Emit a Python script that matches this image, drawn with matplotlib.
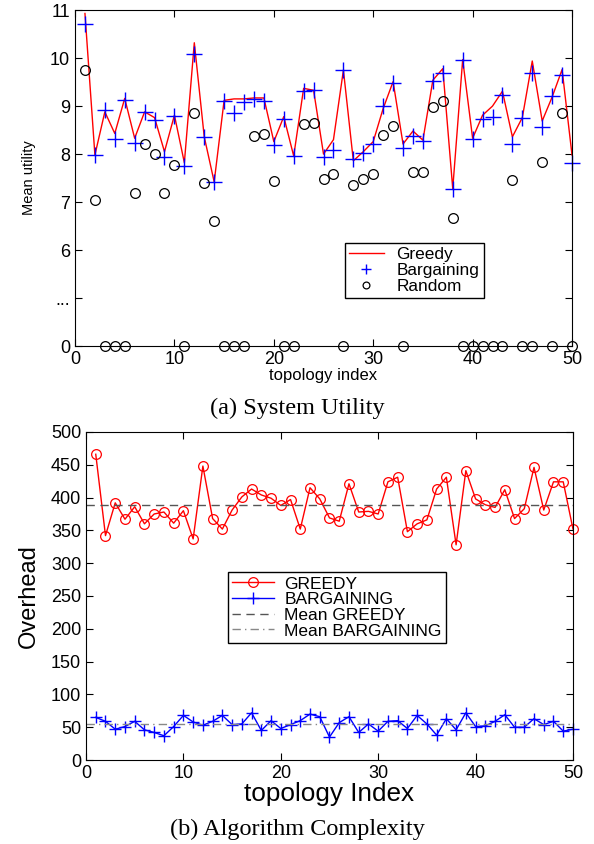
import numpy as np
import matplotlib
matplotlib.use("Agg")
import matplotlib.pyplot as plt

plt.rcParams['font.family'] = ['Liberation Sans', 'DejaVu Sans']

# ---------------- data ----------------
topology = list(range(1, 51))

greedy_util = [10.93, 7.98, 8.88, 8.43, 9.16, 8.33, 8.88, 8.76, 8.05, 8.81,
               7.82, 10.32, 8.36, 7.42, 9.12, 9.15, 9.15, 9.17, 9.17, 8.26,
               8.78, 7.96, 9.37, 9.33, 8.00, 8.30, 9.75, 7.86, 8.05, 8.26,
               8.95, 9.51, 8.21, 8.48, 8.29, 9.54, 9.78, 7.28, 9.97, 8.33,
               8.81, 9.00, 9.31, 8.36, 8.76, 9.94, 8.69, 9.19, 9.76, 7.98]
bargaining_util = [10.72, 7.98, 8.92, 8.31, 9.12, 8.24, 8.87, 8.71, 7.93, 8.80,
                   7.76, 10.08, 8.36, 7.42, 9.10, 8.85, 9.09, 9.15, 9.10, 8.19,
                   8.74, 7.97, 9.32, 9.33, 7.94, 8.08, 9.75, 7.90, 8.03, 8.21,
                   9.00, 9.49, 8.12, 8.38, 8.28, 9.52, 9.68, 7.28, 9.96, 8.31,
                   8.74, 8.78, 9.23, 8.20, 8.76, 9.68, 8.57, 9.21, 9.65, 7.82]
random_util = [9.75, 7.04, 0, 0, 0, 7.18, 8.21, 8.01, 7.18, 7.78,
               0, 8.85, 7.39, 6.61, 0, 0, 0, 8.38, 8.42, 7.44,
               0, 0, 8.63, 8.65, 7.48, 7.58, 0, 7.35, 7.49, 7.58,
               8.40, 8.58, 0, 7.63, 7.63, 8.99, 9.11, 6.66, 0, 0,
               0, 0, 0, 7.46, 0, 0, 7.83, 0, 8.86, 0]
util_tick_labels = ['0', '...', '6', '7', '8', '9', '10', '11']

greedy_overhead = [466, 342, 392, 367, 386, 360, 375, 378, 361, 380,
                   337, 448, 368, 352, 381, 401, 413, 404, 399, 388,
                   397, 352, 415, 398, 369, 364, 421, 378, 379, 375,
                   424, 431, 348, 360, 366, 413, 431, 328, 441, 398,
                   389, 385, 412, 368, 383, 446, 381, 424, 424, 352]
bargaining_overhead = [65, 59, 47, 51, 59, 46, 42, 37, 51, 68,
                       58, 53, 59, 68, 54, 55, 72, 45, 60, 48,
                       54, 60, 70, 66, 35, 57, 66, 42, 55, 44,
                       59, 60, 48, 68, 55, 38, 63, 46, 72, 51,
                       52, 59, 69, 50, 50, 63, 54, 59, 44, 47]
mean_greedy = 389
mean_bargaining = 55


def util_pos(v):
    v = np.asarray(v, dtype=float)
    return np.where(v >= 5, v - 4, v)


fig = plt.figure(figsize=(5.94, 8.44), dpi=100)

# ---------------- top chart ----------------
ax1 = fig.add_axes([0.1263, 0.590, 0.8367, 0.398])
ax1.plot(topology, util_pos(greedy_util), color='red', lw=1.0, label='Greedy',
         clip_on=False)
ax1.plot(topology, util_pos(bargaining_util), ls='none', marker='+', ms=11,
         mew=1.0, color='blue', label='Bargaining', clip_on=False)
ax1.plot(topology, util_pos(random_util), ls='none', marker='o', ms=7,
         mfc='none', mec='black', mew=0.9, label='Random', clip_on=False)
ax1.set_xlim(0, 50)
ax1.set_ylim(0, 7)
ax1.set_xticks([0, 10, 20, 30, 40, 50])
ax1.set_yticks(range(8))
ax1.set_yticklabels(util_tick_labels)
ax1.tick_params(direction='in', top=True, right=True, labelsize=13, length=5)
ax1.set_xlabel('topology index', fontsize=12, labelpad=0)
ax1.set_ylabel('Mean utility', fontsize=10.5, labelpad=10)
leg1 = ax1.legend(loc='upper left', bbox_to_anchor=(0.543, 0.307),
                  borderaxespad=0, fontsize=12.4, markerscale=0.7,
                  frameon=True, fancybox=False, edgecolor='black', framealpha=1,
                  borderpad=0.25, labelspacing=0.05, handlelength=2.0,
                  handletextpad=0.75)
leg1.get_frame().set_linewidth(1.0)
fig.text(0.5, 1 - 408 / 844, '(a) System Utility', ha='center', va='center',
         fontsize=17.5, family='Liberation Serif')

# ---------------- bottom chart ----------------
ax2 = fig.add_axes([0.1448, 0.0995, 0.8198, 0.3887])
ax2.plot(topology, greedy_overhead, color='red', lw=1.0, marker='o', ms=7,
         mfc='none', mec='red', mew=0.9, label='GREEDY', clip_on=False)
ax2.plot(topology, bargaining_overhead, color='blue', lw=1.0, marker='+',
         ms=9, mew=1.0, label='BARGAINING', clip_on=False)
ax2.axhline(mean_greedy, color='#555555', ls=(0, (6, 4)), lw=1.0,
            label='Mean GREEDY')
ax2.axhline(mean_bargaining, color='#888888', ls=(0, (6, 3, 1, 3)), lw=1.0,
            label='Mean BARGAINING')
ax2.set_xlim(0, 50)
ax2.set_ylim(0, 500)
ax2.set_xticks([0, 10, 20, 30, 40, 50])
ax2.set_yticks(range(0, 501, 50))
ax2.tick_params(direction='in', top=True, right=True, labelsize=13, length=5)
ax2.set_xlabel('topology Index', fontsize=18.8, labelpad=0)
ax2.set_ylabel('Overhead', fontsize=17, labelpad=8)
leg2 = ax2.legend(loc='upper left', bbox_to_anchor=(0.2916, 0.573),
                  borderaxespad=0, fontsize=12.5,
                  frameon=True, fancybox=False, edgecolor='black', framealpha=1,
                  borderpad=0.25, labelspacing=0.03, handlelength=2.4,
                  handletextpad=0.6)
leg2.get_frame().set_linewidth(1.0)
fig.text(0.5, 1 - 829 / 844, '(b) Algorithm Complexity', ha='center',
         va='center', fontsize=17.5, family='Liberation Serif')

fig.savefig('out.png', dpi=100)
